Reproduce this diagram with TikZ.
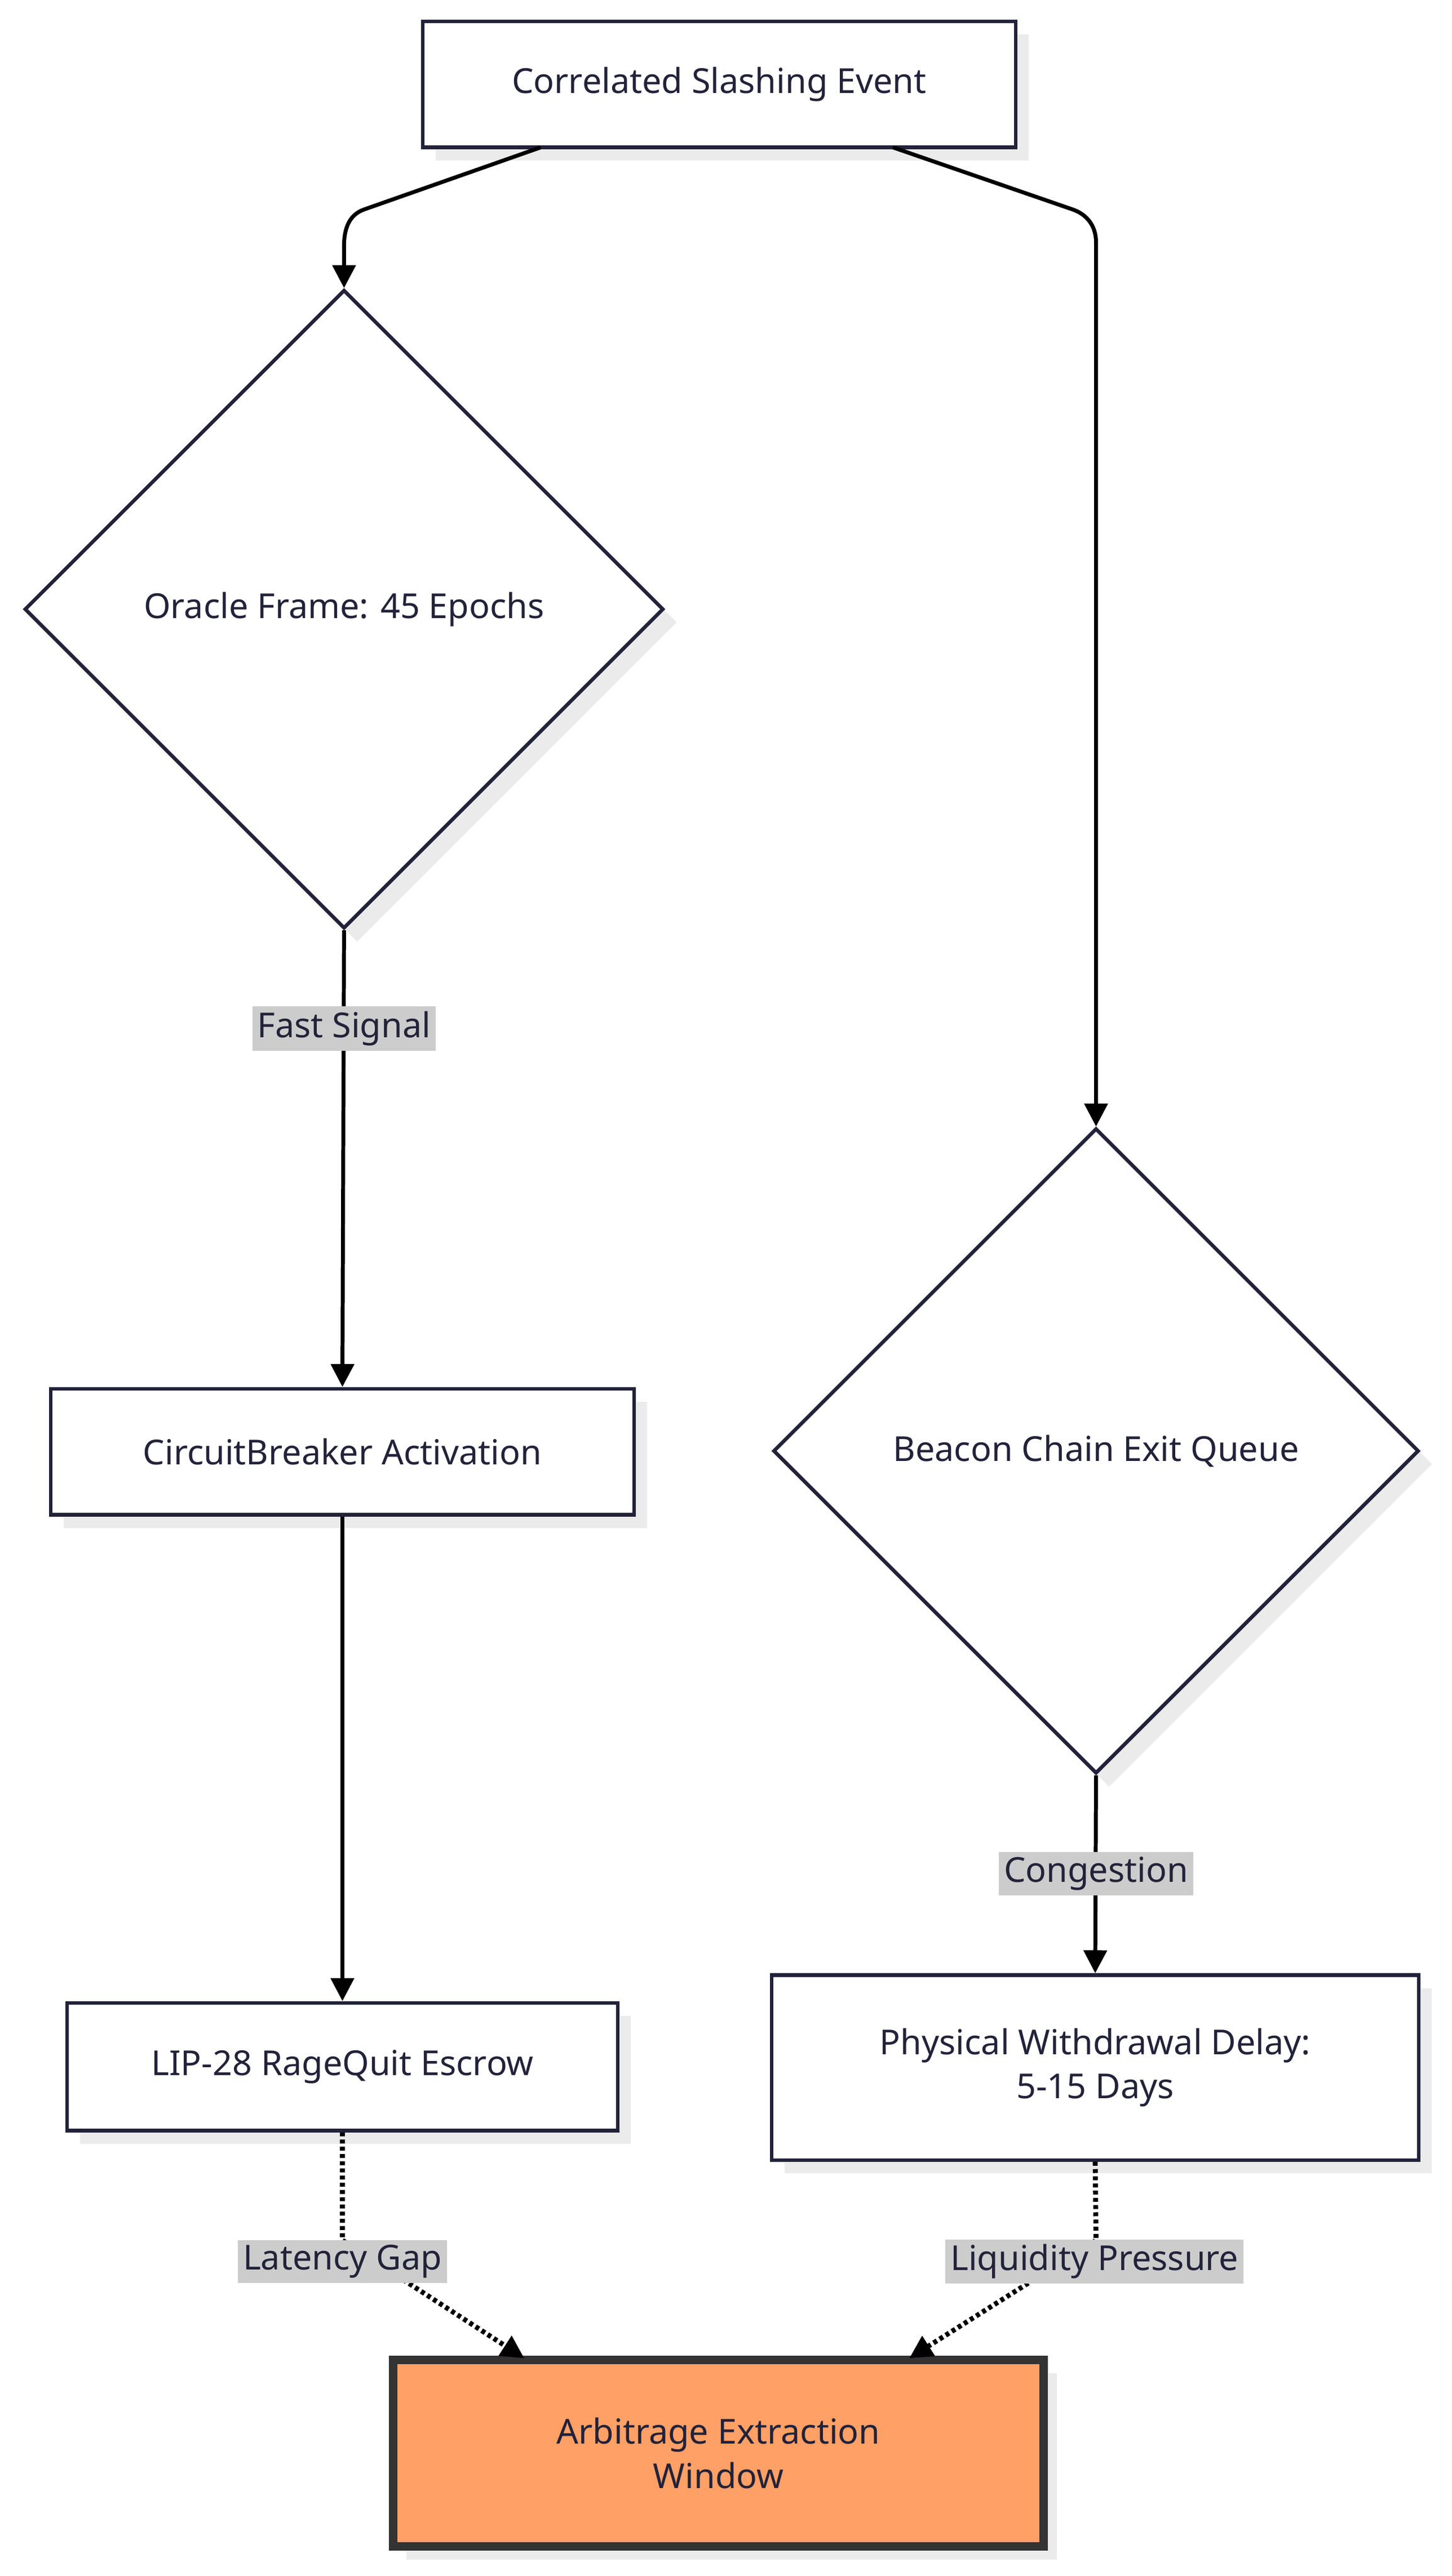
\documentclass[tikz,border=0pt]{standalone}
\usepackage{fontspec}
\setmainfont{Noto Sans}
\usetikzlibrary{shapes.geometric,arrows.meta}
\definecolor{ink}{HTML}{22223A}
\definecolor{lbl}{HTML}{CCCCCC}
\definecolor{org}{HTML}{FFA066}
\begin{document}
\begin{tikzpicture}[x=1pt,y=-1pt,
  every node/.style={font=\fontsize{21}{27}\selectfont, text=ink},
  box/.style={draw=ink, line width=2.2pt, fill=white, align=center, inner sep=0pt},
  shad/.style={fill=black!8, draw=none},
  edge/.style={draw=black, line width=2.4pt, -{Triangle[width=14pt,length=14pt]}},
  dedge/.style={edge, dotted, line width=3pt},
  elabel/.style={fill=lbl, inner sep=3pt, text=ink}]
\useasboundingbox (0,0) rectangle (886,1573);
% shadows
\fill[black!8] (266,21) rectangle (628,98);
\fill[black!8] (39,856) rectangle (395,933);
\fill[black!8] (49,1231) rectangle (385,1309);
\fill[black!8] (479,1214) rectangle (874,1327);
\fill[black!8] (248,1449) rectangle (645,1563);
\fill[black!8] (218,185) -- (413,380) -- (218,575) -- (23,380) -- cycle;
\fill[black!8] (677,696) -- (874,894) -- (677,1091) -- (480,894) -- cycle;
% nodes
\node[box, minimum width=362pt, minimum height=77pt] (top) at (439,51.5) {Correlated Slashing Event};
\node[box, diamond, aspect=1, minimum width=390pt, minimum height=390pt] (oracle) at (210,372) {Oracle Frame: 45 Epochs};
\node[box, diamond, aspect=1, minimum width=394pt, minimum height=394pt] (beacon) at (669,886) {Beacon Chain Exit Queue};
\node[box, minimum width=356pt, minimum height=77pt] (cb) at (209,886.5) {CircuitBreaker Activation};
\node[box, minimum width=336pt, minimum height=78pt] (lip) at (209,1262) {LIP-28 RageQuit Escrow};
\node[box, minimum width=395pt, minimum height=113pt] (phys) at (668.5,1262.5) {Physical Withdrawal Delay:\\5-15 Days};
\node[box, fill=org, draw=black!80, line width=5pt, minimum width=397pt, minimum height=114pt] (arb) at (438.5,1498) {Arbitrage Extraction\\Window};
% edges
\coordinate (t1) at (330,90);
\coordinate (t2) at (545,90);
\draw[edge] (t1) -- (222,128) to[out=-160,in=90] (210,150) -- (oracle.north);
\draw[edge] (t2) -- (655,128) to[out=-20,in=90] (669,148) -- (beacon.north);
\draw[edge] (oracle.south) -- (cb.north);
\draw[edge] (cb.south) -- (lip.north);
\draw[edge] (beacon.south) -- (phys.north);
\coordinate (l1) at (209,1368);
\coordinate (r1) at (669,1368);
\coordinate (a1) at (320,1440);
\coordinate (a2) at (555,1440);
\draw[dedge] (lip.south) -- (l1) -- (a1);
\draw[dedge] (phys.south) -- (r1) -- (a2);
% labels
\node[elabel] (fs) at (210,628) {Fast Signal};
\node[elabel] (cg) at (669,1144) {Congestion};
\node[elabel] (lg) at (209,1381) {Latency Gap};
\node[elabel] (lp) at (668,1381) {Liquidity Pressure};
\end{tikzpicture}
\end{document}
